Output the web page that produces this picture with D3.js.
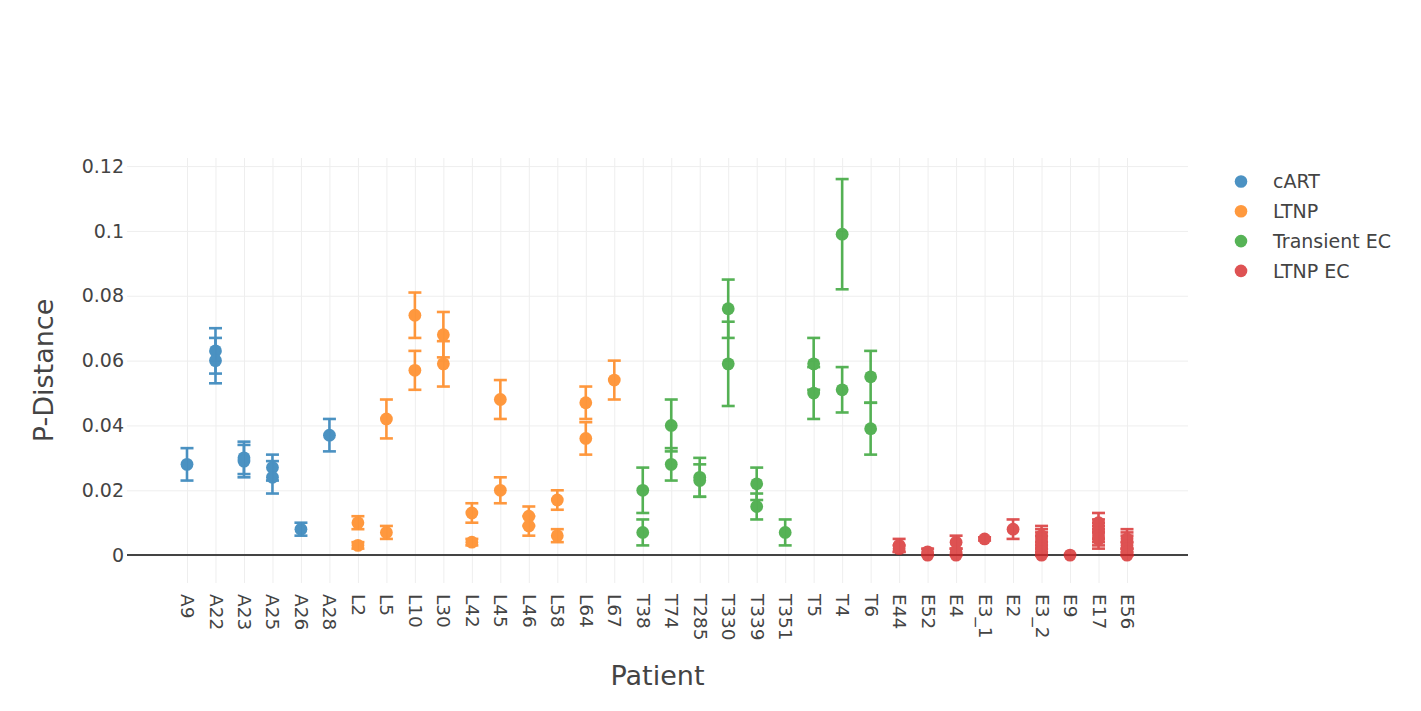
<!DOCTYPE html>
<html>
<head>
<meta charset="utf-8">
<script src="https://cdn.jsdelivr.net/npm/d3@7/dist/d3.min.js"></script>
<style>
    body { margin: 0; background: #fff; }
    text { font-family: "DejaVu Sans", Verdana, sans-serif; fill: #444; }
</style>
</head>
<body>
<div id="chartContainer"></div>
<script>
// Categories on the x axis
const patients = ["A9", "A22", "A23", "A25", "A26", "A28", "L2", "L5", "L10", "L30", "L42",
    "L45", "L46", "L58", "L64", "L67", "T38", "T74", "T285", "T330", "T339", "T351", "T5",
    "T4", "T6", "E44", "E52", "E4", "E3_1", "E2", "E3_2", "E9", "E17", "E56"];

const groupNames = ["cART", "LTNP", "Transient EC", "LTNP EC"];

// cART
const cartPatient = ["A9", "A22", "A22", "A23", "A23", "A25", "A25", "A26", "A28"];
const cartValue = [0.028, 0.063, 0.060, 0.030, 0.029, 0.027, 0.024, 0.008, 0.037];
const cartError = [0.005, 0.007, 0.007, 0.005, 0.005, 0.004, 0.005, 0.002, 0.005];

// LTNP
const ltnpPatient = ["L2", "L2", "L5", "L5", "L10", "L10", "L30", "L30", "L42", "L42",
    "L45", "L45", "L46", "L46", "L58", "L58", "L64", "L64", "L67"];
const ltnpValue = [0.010, 0.003, 0.042, 0.007, 0.074, 0.057, 0.068, 0.059, 0.013, 0.004,
    0.048, 0.020, 0.012, 0.009, 0.017, 0.006, 0.047, 0.036, 0.054];
const ltnpError = [0.002, 0.001, 0.006, 0.002, 0.007, 0.006, 0.007, 0.007, 0.003, 0.001,
    0.006, 0.004, 0.003, 0.003, 0.003, 0.002, 0.005, 0.005, 0.006];

// Transient EC
const transPatient = ["T38", "T38", "T74", "T74", "T285", "T285", "T330", "T330", "T339",
    "T339", "T351", "T5", "T5", "T4", "T4", "T6", "T6"];
const transValue = [0.020, 0.007, 0.040, 0.028, 0.024, 0.023, 0.076, 0.059, 0.022,
    0.015, 0.007, 0.059, 0.050, 0.099, 0.051, 0.055, 0.039];
const transError = [0.007, 0.004, 0.008, 0.005, 0.006, 0.005, 0.009, 0.013, 0.005,
    0.004, 0.004, 0.008, 0.008, 0.017, 0.007, 0.008, 0.008];

// LTNP EC
const ecPatient = ["E44", "E44", "E52", "E52", "E4", "E4", "E4", "E3_1", "E2",
    "E3_2", "E3_2", "E3_2", "E3_2", "E3_2", "E3_2", "E3_2", "E9",
    "E17", "E17", "E17", "E17", "E17",
    "E56", "E56", "E56", "E56", "E56", "E56"];
const ecValue = [0.003, 0.002, 0.001, 0.000, 0.004, 0.001, 0.000, 0.005, 0.008,
    0.006, 0.005, 0.004, 0.003, 0.002, 0.001, 0.000, 0.000,
    0.010, 0.008, 0.007, 0.006, 0.005,
    0.005, 0.004, 0.003, 0.002, 0.001, 0.000];
const ecError = [0.002, 0.001, 0.001, 0.000, 0.002, 0.001, 0.000, 0.0005, 0.003,
    0.003, 0.003, 0.003, 0.003, 0.002, 0.001, 0.000, 0.000,
    0.003, 0.003, 0.003, 0.003, 0.003,
    0.003, 0.003, 0.003, 0.002, 0.001, 0.000];

const yTicks = [0, 0.02, 0.04, 0.06, 0.08, 0.1, 0.12];

function init() {
    const width = 1421;
    const height = 711;
    const margin = { top: 158, right: 233, bottom: 128, left: 127 };
    const w = width - margin.left - margin.right;
    const h = height - margin.top - margin.bottom;

    const colors = ["#1f77b4", "#ff7f0e", "#2ca02c", "#d62728"];

    const svg = d3.select("#chartContainer").append("svg")
        .attr("width", width)
        .attr("height", height);

    const g = svg.append("g")
        .attr("transform", `translate(${margin.left}, ${margin.top})`);

    // Scales
    const x = d3.scalePoint()
        .domain(patients)
        .range([60, w - 61]);

    const y = d3.scaleLinear()
        .domain([-0.0086, 0.1225])
        .range([h, 0]);

    // Vertical grid + rotated tick labels
    const xAxis = g.append("g")
        .attr("class", "x-axis")
        .attr("transform", `translate(0, ${h})`)
        .call(d3.axisBottom(x).tickSize(-h).tickPadding(0));
    xAxis.select(".domain").remove();
    xAxis.selectAll("line").attr("stroke", "#eee").attr("stroke-width", 1);
    xAxis.selectAll("text")
        .attr("transform", "translate(0, 11) rotate(90)")
        .attr("x", 0)
        .attr("y", 0)
        .attr("dy", "0.35em")
        .style("text-anchor", "start")
        .style("font-size", "18.5px");

    // Horizontal grid + tick labels
    const yAxis = g.append("g")
        .attr("class", "y-axis")
        .call(d3.axisLeft(y).tickValues(yTicks).tickFormat(d => String(d)).tickSize(-w).tickPadding(3));
    yAxis.select(".domain").remove();
    yAxis.selectAll("line").attr("stroke", "#eee").attr("stroke-width", 1);
    yAxis.selectAll("text").style("font-size", "19px");

    // Zero line
    g.append("line")
        .attr("x1", 0)
        .attr("x2", w)
        .attr("y1", y(0))
        .attr("y2", y(0))
        .attr("stroke", "#444")
        .attr("stroke-width", 2);

    // Axis titles
    svg.append("text")
        .attr("x", margin.left + w / 2)
        .attr("y", 685)
        .style("text-anchor", "middle")
        .style("font-size", "27px")
        .text("Patient");

    svg.append("text")
        .attr("transform", `translate(53, ${margin.top + h / 2}) rotate(-90)`)
        .style("text-anchor", "middle")
        .style("font-size", "27px")
        .text("P-Distance");

    // Build traces from the arrays
    const traces = [
        { patient: cartPatient, value: cartValue, error: cartError },
        { patient: ltnpPatient, value: ltnpValue, error: ltnpError },
        { patient: transPatient, value: transValue, error: transError },
        { patient: ecPatient, value: ecValue, error: ecError }
    ];

    const capHalf = 6.5;

    traces.forEach((t, i) => {
        const rows = t.patient.map((p, j) => ({ p: p, v: t.value[j], e: t.error[j] }));
        const layer = g.append("g")
            .attr("class", "trace")
            .attr("opacity", 0.8);

        // error bars
        const bars = layer.append("g")
            .attr("stroke", colors[i])
            .attr("stroke-width", 2.6)
            .selectAll("g")
            .data(rows.filter(d => d.e > 0))
            .enter()
            .append("g");

        bars.append("line")
            .attr("x1", d => x(d.p))
            .attr("x2", d => x(d.p))
            .attr("y1", d => y(d.v - d.e))
            .attr("y2", d => y(d.v + d.e));
        bars.append("line")
            .attr("x1", d => x(d.p) - capHalf)
            .attr("x2", d => x(d.p) + capHalf)
            .attr("y1", d => y(d.v + d.e))
            .attr("y2", d => y(d.v + d.e));
        bars.append("line")
            .attr("x1", d => x(d.p) - capHalf)
            .attr("x2", d => x(d.p) + capHalf)
            .attr("y1", d => y(d.v - d.e))
            .attr("y2", d => y(d.v - d.e));

        // markers
        layer.append("g")
            .selectAll("circle")
            .data(rows)
            .enter()
            .append("circle")
            .attr("cx", d => x(d.p))
            .attr("cy", d => y(d.v))
            .attr("r", 6.4)
            .attr("fill", colors[i]);
    });

    // Legend
    const legend = svg.append("g")
        .attr("class", "legend")
        .attr("transform", "translate(1241, 181.5)");

    const items = legend.selectAll("g")
        .data(groupNames)
        .enter()
        .append("g")
        .attr("transform", (d, i) => `translate(0, ${i * 29.8})`);

    items.append("circle")
        .attr("r", 6.3)
        .attr("fill", (d, i) => colors[i])
        .attr("opacity", 0.8);

    items.append("text")
        .attr("x", 32)
        .attr("dy", "0.35em")
        .style("font-size", "19px")
        .text(d => d);
}
window.onload = init;
</script>
</body>
</html>
